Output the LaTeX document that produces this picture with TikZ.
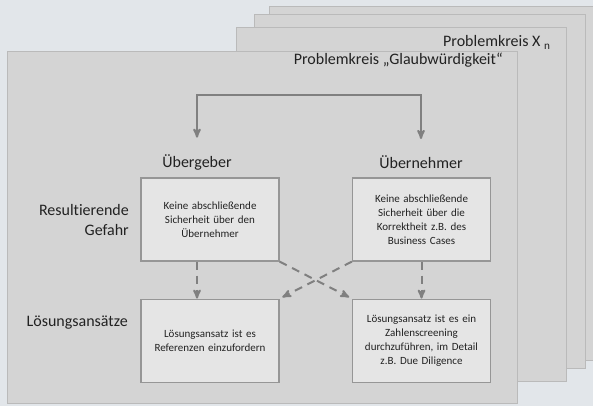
\documentclass[tikz,border=0pt]{standalone}
\usepackage{fontspec}
\setmainfont{Carlito}[Ligatures=NoCommon]
\usepackage{tikz}
\usetikzlibrary{arrows}
\usetikzlibrary{positioning}
\usetikzlibrary{calc}
\definecolor{bgblue}{RGB}{226,230,234}
\definecolor{panelgray}{RGB}{212,212,212}
\definecolor{panelline}{RGB}{186,186,186}
\definecolor{boxgray}{RGB}{229,229,229}
\definecolor{boxline}{RGB}{150,150,150}
\definecolor{arrowgray}{RGB}{128,128,128}
\definecolor{txtgray}{RGB}{34,34,34}
\tikzset{panel/.style={fill=panelgray, draw=panelline, line width=1pt}}
\tikzset{titel/.style={font=\fontsize{16}{19}\selectfont, text=txtgray, inner sep=0pt}}
\tikzset{kopf/.style={font=\fontsize{16}{20}\selectfont, text=txtgray}}
\tikzset{kasten/.style={rectangle, fill=boxgray, draw=boxline, line width=1.2pt,
    minimum width=138pt, minimum height=83pt, text width=130pt, align=center,
    font=\fontsize{11}{14}\selectfont, text=txtgray}}
\tikzset{fluss/.style={->, draw=arrowgray, line width=2pt}}
\tikzset{quer/.style={->, draw=arrowgray, line width=2pt, dash pattern=on 8pt off 6pt}}

\begin{document}
\begin{tikzpicture}[x=1pt,y=-1pt,>=stealth',node distance=37pt]
   \useasboundingbox (0,0) rectangle (593,406);
   \clip (0,0) rectangle (593,406);
   \fill[bgblue] (0,0) rectangle (593,406);

   % gestapelte Problemkreise
   \draw[panel] (269,7) rectangle (600,360);
   \draw[panel] (254,15) rectangle (585,368);
   \draw[panel] (236,28) rectangle (566,381);
   \draw[panel] (7,52) rectangle (517,403);

   \node[titel, anchor=base west] (kreisX) at (443,47) {Problemkreis X \textsubscript{n}};
   \node[titel, anchor=base east] (kreisG) at (503,65) {Problemkreis „Glaubwürdigkeit“};

   % Spalten
   \node[kopf] (geber) at (197,162) {Übergeber};
   \node[kopf] (nehmer) at (421,162) {Übernehmer};

   \node[kasten] (gefahrL) at (210,219.5) {Keine abschließende\\Sicherheit über den\\Übernehmer};
   \node[kasten] (gefahrR) at (421.5,219.5) {Keine abschließende\\Sicherheit über die\\Korrektheit z.B. des\\Business Cases};
   \node[kasten, below=of gefahrL] (loesungL) {Lösungsansatz ist es\\Referenzen einzufordern};
   \node[kasten, below=of gefahrR] (loesungR) {Lösungsansatz ist es ein\\Zahlenscreening\\durchzuführen, im Detail\\z.B. Due Diligence};

   % Zeilen
   \node[kopf, align=right, anchor=east, inner sep=0pt] (gefahr) at (129,220) {Resultierende\\Gefahr};
   \node[kopf, anchor=east, inner sep=0pt] (ansaetze) at (128,323) {Lösungsansätze};

   % Pfeile
   \coordinate (gabel) at (309,95);
   \draw[fluss, shorten >=13pt] (gabel) -| (geber);
   \draw[fluss, shorten >=13pt] (gabel) -| (nehmer);

   \draw[quer] (gefahrL.south -| geber) -- (loesungL.north -| geber);
   \draw[quer] (gefahrR.south) -- (loesungR.north);
   \draw[quer, shorten >=3pt] (gefahrL.south east) -- (loesungR.north west);
   \draw[quer, shorten >=3pt] (gefahrR.south west) -- (loesungL.north east);
\end{tikzpicture}
\end{document}
